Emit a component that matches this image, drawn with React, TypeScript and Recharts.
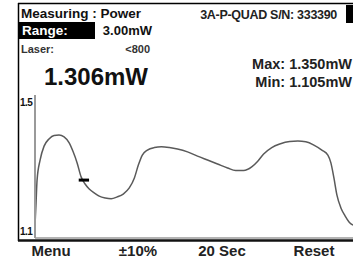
import { Line, LineChart, ReferenceLine, XAxis, YAxis } from "recharts";

// power trace over the 20 s window (seconds, mW)
const times = [
  0, 0.06, 0.13, 0.32, 0.57, 0.88, 1.2, 1.51, 1.83, 2.15, 2.4, 2.65, 2.9, 3.15, 3.41, 3.72,
  4.04, 4.42, 4.79, 5.17, 5.55, 5.93, 6.25, 6.5, 6.75, 7.07, 7.51, 7.95, 8.45, 8.96, 9.59,
  10.22, 10.85, 11.48, 12.11, 12.62, 13.12, 13.63, 14.01, 14.38, 14.89, 15.39, 16.02, 16.53,
  17.03, 17.54, 18.04, 18.42, 18.61, 18.8, 18.99, 19.24, 19.5, 19.75, 20,
];
const power = [
  1.136, 1.192, 1.262, 1.318, 1.357, 1.377, 1.387, 1.388, 1.383, 1.366, 1.341, 1.31, 1.271,
  1.251, 1.237, 1.226, 1.217, 1.212, 1.21, 1.215, 1.223, 1.24, 1.268, 1.304, 1.332, 1.346,
  1.353, 1.355, 1.353, 1.349, 1.341, 1.329, 1.318, 1.307, 1.296, 1.289, 1.289, 1.299, 1.315,
  1.335, 1.353, 1.363, 1.37, 1.371, 1.369, 1.36, 1.346, 1.332, 1.31, 1.268, 1.22, 1.184,
  1.162, 1.145, 1.136,
];
const yTicks = [1.1, 1.5];
const softKeys = ["Menu", "±10%", "20 Sec", "Reset"];
const cursorStart = 2.75;
const cursorEnd = 3.4;
const cursorValue = 1.262;

const data = times.map((t, i) => ({ t, p: power[i] }));

const FONT = "'Liberation Sans', Arial, sans-serif";

function YTick({ y, payload }: any) {
  const top = payload.value === 1.5;
  return (
    <text
      x={20}
      y={top ? y + 11 : y - 3}
      fontSize={10}
      fontWeight="bold"
      fontFamily={FONT}
      fill="#111"
      letterSpacing={-0.5}
    >
      {payload.value.toFixed(1)}
    </text>
  );
}

export default function App() {
  return (
    <div
      style={{
        position: "absolute",
        left: 0,
        top: 0,
        width: 353,
        height: 260,
        background: "#fff",
        overflow: "hidden",
      }}
    >
      <LineChart
        width={353}
        height={260}
        data={data}
        margin={{ top: 95, right: 0, bottom: 0, left: 0 }}
      >
        <XAxis
          dataKey="t"
          type="number"
          domain={[0, 20]}
          height={22}
          tick={false}
          tickLine={false}
          axisLine={{ stroke: "#9a9a9a", strokeWidth: 1.5 }}
        />
        <YAxis
          type="number"
          domain={[1.1, 1.5]}
          ticks={yTicks}
          width={35}
          tick={<YTick />}
          tickLine={false}
          axisLine={{ stroke: "#9a9a9a", strokeWidth: 2 }}
          allowDataOverflow
        />
        <Line
          dataKey="p"
          type="monotone"
          stroke="#5a5a5a"
          strokeWidth={1.5}
          dot={false}
          isAnimationActive={false}
        />
        <ReferenceLine
          segment={[
            { x: cursorStart, y: cursorValue },
            { x: cursorEnd, y: cursorValue },
          ]}
          stroke="#000"
          strokeWidth={3}
        />
      </LineChart>

      <svg
        width={353}
        height={260}
        style={{ position: "absolute", left: 0, top: 0, pointerEvents: "none" }}
        fontFamily={FONT}
        fontWeight="bold"
      >
        {/* frame */}
        <line x1={18} y1={3.5} x2={353} y2={3.5} stroke="#000" strokeWidth={1.5} />
        <line x1={18.5} y1={3} x2={18.5} y2={241} stroke="#000" strokeWidth={1.5} />
        <line x1={18} y1={240.5} x2={353} y2={240.5} stroke="#111" strokeWidth={2.5} />
        <rect x={346} y={5} width={7} height={18} fill="#000" />

        <text x={21} y={18} fontSize={13.5} fill="#111">
          Measuring : Power
        </text>
        <rect x={19} y={22} width={76} height={17} fill="#000" />
        <text x={22} y={35} fontSize={13.5} fill="#fff">
          Range:
        </text>
        <text x={152} y={35} fontSize={13} textAnchor="end" fill="#111">
          3.00mW
        </text>
        <text x={21} y={53} fontSize={11} fill="#333">
          Laser:
        </text>
        <text x={150} y={53} fontSize={11} textAnchor="end" fill="#333">
          &lt;800
        </text>
        <text x={148} y={85} fontSize={24} textAnchor="end" fill="#111">
          1.306mW
        </text>

        <text x={337} y={19} fontSize={12.5} textAnchor="end" fill="#222" letterSpacing={-0.3}>
          3A-P-QUAD S/N: 333390
        </text>
        <text x={352} y={69} fontSize={14.5} textAnchor="end" fill="#222">
          Max: 1.350mW
        </text>
        <text x={352} y={87} fontSize={14.5} textAnchor="end" fill="#222">
          Min: 1.105mW
        </text>

        {softKeys.map((k, i) => (
          <text
            key={k}
            x={[51, 138, 222, 314][i]}
            y={256}
            fontSize={15}
            textAnchor="middle"
            fill="#222"
          >
            {k}
          </text>
        ))}
      </svg>
    </div>
  );
}
